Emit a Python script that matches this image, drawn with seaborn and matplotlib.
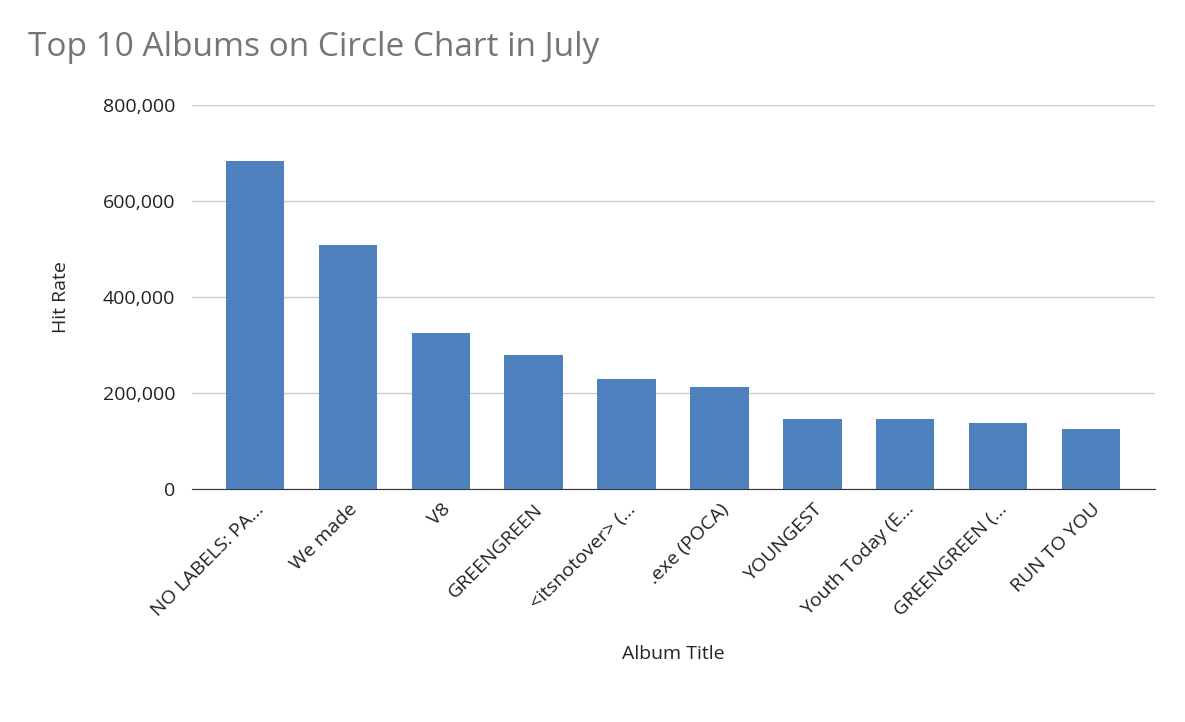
import matplotlib
matplotlib.use('Agg')
import matplotlib.pyplot as plt
import seaborn as sns
import pandas as pd
from matplotlib.ticker import FuncFormatter

albums = ['NO LABELS: PA…', 'We made', 'V8', 'GREENGREEN', '<itsnotover> (…',
          '.exe (POCA)', 'YOUNGEST', 'Youth Today (E…', 'GREENGREEN (…', 'RUN TO YOU']
hits = [683000, 508000, 325000, 279000, 229000, 212000, 146000, 146000, 137000, 125000]

df = pd.DataFrame({'Album Title': albums, 'Hit Rate': hits})

sns.set_style('white')
plt.rcParams['font.family'] = ['Open Sans', 'DejaVu Sans']

fig = plt.figure(figsize=(11.85, 7.22), dpi=100)
ax = fig.add_axes([192 / 1185, 1 - 489 / 722, (1155 - 192) / 1185, (489 - 105) / 722])
sns.barplot(data=df, x='Album Title', y='Hit Rate', color='#4e81bd', saturation=1,
            width=0.63, linewidth=0, ax=ax, zorder=3)

ax.set_xlim(-0.68, 9.69)
ax.set_ylim(0, 800000)
ax.set_yticks([0, 200000, 400000, 600000, 800000])
ax.yaxis.set_major_formatter(FuncFormatter(lambda v, p: f'{int(v):,}'))
ax.grid(axis='y', color='#cccccc', linewidth=1, zorder=0)
for s in ['top', 'right', 'left']:
    ax.spines[s].set_visible(False)
ax.spines['bottom'].set_color('#333333')
ax.tick_params(axis='both', length=0, labelsize=14, colors='#222222')
ax.tick_params(axis='y', pad=12)
ax.tick_params(axis='x', pad=8)
plt.setp(ax.get_xticklabels(), rotation=45, ha='right', rotation_mode='anchor')
ax.set_xlabel('Album Title', fontsize=14, labelpad=18)
ax.set_ylabel('Hit Rate', fontsize=14, labelpad=24)
fig.text(28 / 1185, 1 - 48 / 722, 'Top 10 Albums on Circle Chart in July',
         fontsize=24, color='#757575', va='center')

fig.savefig('out.png', dpi=100)
